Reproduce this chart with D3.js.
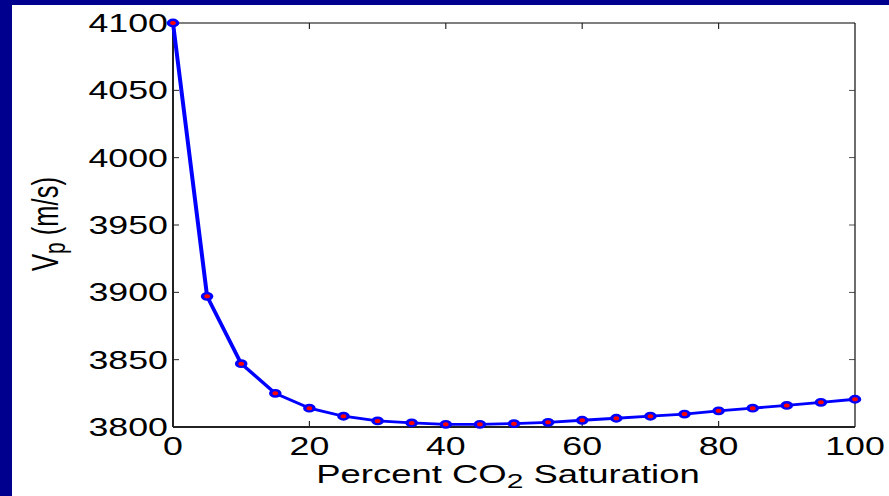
<!DOCTYPE html>
<html>
<head>
<meta charset="utf-8">
<script src="https://d3js.org/d3.v7.min.js"></script>
<style>
  html, body { margin: 0; padding: 0; background: #00008f; }
  svg { display: block; }
  text { font-family: "Liberation Sans", Arial, sans-serif; fill: #000; }
</style>
</head>
<body>
<div class="chart"></div>
<script>
var saturation = [0, 5, 10, 15, 20, 25, 30, 35, 40, 45, 50, 55, 60, 65, 70, 75, 80, 85, 90, 95, 100];
var velocity = [4100, 3897, 3847, 3825, 3814, 3808, 3804.5, 3803, 3802, 3802, 3802.5, 3803.5, 3805,
                3806.5, 3808, 3809.6, 3812, 3814, 3816, 3818.3, 3820.6];
var xTicks = [0, 20, 40, 60, 80, 100];
var yTicks = [3800, 3850, 3900, 3950, 4000, 4050, 4100];

var width = 889,
    height = 496,
    stretch = 1.43; // the original figure is stretched sideways

var svg = d3.select('.chart').append('svg')
  .attr('width', width)
  .attr('height', height);

// white page inside the blue frame
svg.append('rect')
  .attr('x', 12)
  .attr('y', 5)
  .attr('width', width - 12)
  .attr('height', height - 5)
  .attr('fill', '#fff');

var g = svg.append('g').attr('transform', 'scale(' + stretch + ',1)');

var plotLeft = 173 / stretch,
    plotRight = 855 / stretch,
    plotTop = 23,
    plotBottom = 427;

var x = d3.scaleLinear().domain([0, 100]).range([plotLeft, plotRight]);
var y = d3.scaleLinear().domain([3800, 4100]).range([plotBottom, plotTop]);

// box: top and right thin, left and bottom heavier
g.append('line')
  .attr('x1', plotLeft).attr('x2', plotRight).attr('y1', plotTop).attr('y2', plotTop)
  .attr('stroke', '#000').attr('stroke-width', 1);
g.append('line')
  .attr('x1', plotRight).attr('x2', plotRight).attr('y1', plotTop).attr('y2', plotBottom)
  .attr('stroke', '#000').attr('stroke-width', 0.8);

var tickLen = 6;

// inner ticks on all four sides
g.append('g').selectAll('line')
  .data(yTicks.slice(1, -1))
  .enter().append('line')
    .attr('x1', plotLeft).attr('x2', plotLeft + tickLen / stretch)
    .attr('y1', function(d) { return y(d); })
    .attr('y2', function(d) { return y(d); })
    .attr('stroke', '#222').attr('stroke-width', 1);
g.append('g').selectAll('line')
  .data(yTicks.slice(1, -1))
  .enter().append('line')
    .attr('x1', plotRight).attr('x2', plotRight - tickLen / stretch)
    .attr('y1', function(d) { return y(d); })
    .attr('y2', function(d) { return y(d); })
    .attr('stroke', '#222').attr('stroke-width', 0.8);
g.append('g').selectAll('line')
  .data(xTicks.slice(1, -1))
  .enter().append('line')
    .attr('x1', function(d) { return x(d); })
    .attr('x2', function(d) { return x(d); })
    .attr('y1', plotBottom).attr('y2', plotBottom - tickLen)
    .attr('stroke', '#222').attr('stroke-width', 0.8);
g.append('g').selectAll('line')
  .data(xTicks.slice(1, -1))
  .enter().append('line')
    .attr('x1', function(d) { return x(d); })
    .attr('x2', function(d) { return x(d); })
    .attr('y1', plotTop).attr('y2', plotTop + tickLen)
    .attr('stroke', '#222').attr('stroke-width', 0.8);

g.append('line')
  .attr('x1', plotLeft).attr('x2', plotLeft).attr('y1', plotTop).attr('y2', plotBottom)
  .attr('stroke', '#222').attr('stroke-width', 1.4);
g.append('line')
  .attr('x1', plotLeft).attr('x2', plotRight).attr('y1', plotBottom).attr('y2', plotBottom)
  .attr('stroke', '#222').attr('stroke-width', 2);

// tick labels
g.append('g').selectAll('text')
  .data(yTicks)
  .enter().append('text')
    .attr('x', plotLeft - 5 / stretch)
    .attr('y', function(d) { return y(d); })
    .attr('dy', '0.36em')
    .attr('text-anchor', 'end')
    .style('font-size', '25px')
    .text(function(d) { return d; });

g.append('g').selectAll('text')
  .data(xTicks)
  .enter().append('text')
    .attr('x', function(d) { return x(d); })
    .attr('y', plotBottom + 28)
    .attr('text-anchor', 'middle')
    .style('font-size', '25px')
    .text(function(d) { return d; });

// axis titles
var xTitle = g.append('text')
  .attr('x', (plotLeft + plotRight) / 2 - 6 / stretch)
  .attr('y', 483)
  .attr('text-anchor', 'middle')
  .style('font-size', '25.5px');
xTitle.append('tspan').text('Percent CO');
xTitle.append('tspan').attr('dy', 5).style('font-size', '21px').text('2');
xTitle.append('tspan').attr('dy', -5).text(' Saturation');

var yTitle = g.append('text')
  .attr('transform', 'translate(' + (57.5 / stretch) + ',' + ((plotTop + plotBottom) / 2 - 1) + ') rotate(-90)')
  .attr('text-anchor', 'middle')
  .style('font-size', '25.5px');
yTitle.append('tspan').text('V');
yTitle.append('tspan').attr('dy', 5).style('font-size', '21px').text('p');
yTitle.append('tspan').attr('dy', -5).text(' (m/s)');

// the curve
var line = d3.line()
  .x(function(d, i) { return x(saturation[i]); })
  .y(function(d) { return y(d); });

g.append('path')
  .datum(velocity)
  .attr('d', line)
  .attr('fill', 'none')
  .attr('stroke', '#0000ff')
  .attr('stroke-width', 2.8)
  .attr('stroke-linejoin', 'round');

g.append('g').selectAll('circle')
  .data(velocity)
  .enter().append('circle')
    .attr('cx', function(d, i) { return x(saturation[i]); })
    .attr('cy', function(d) { return y(d); })
    .attr('r', 3.2)
    .attr('fill', '#ff0000')
    .attr('stroke', '#0000ff')
    .attr('stroke-width', 2.4);
</script>
</body>
</html>
